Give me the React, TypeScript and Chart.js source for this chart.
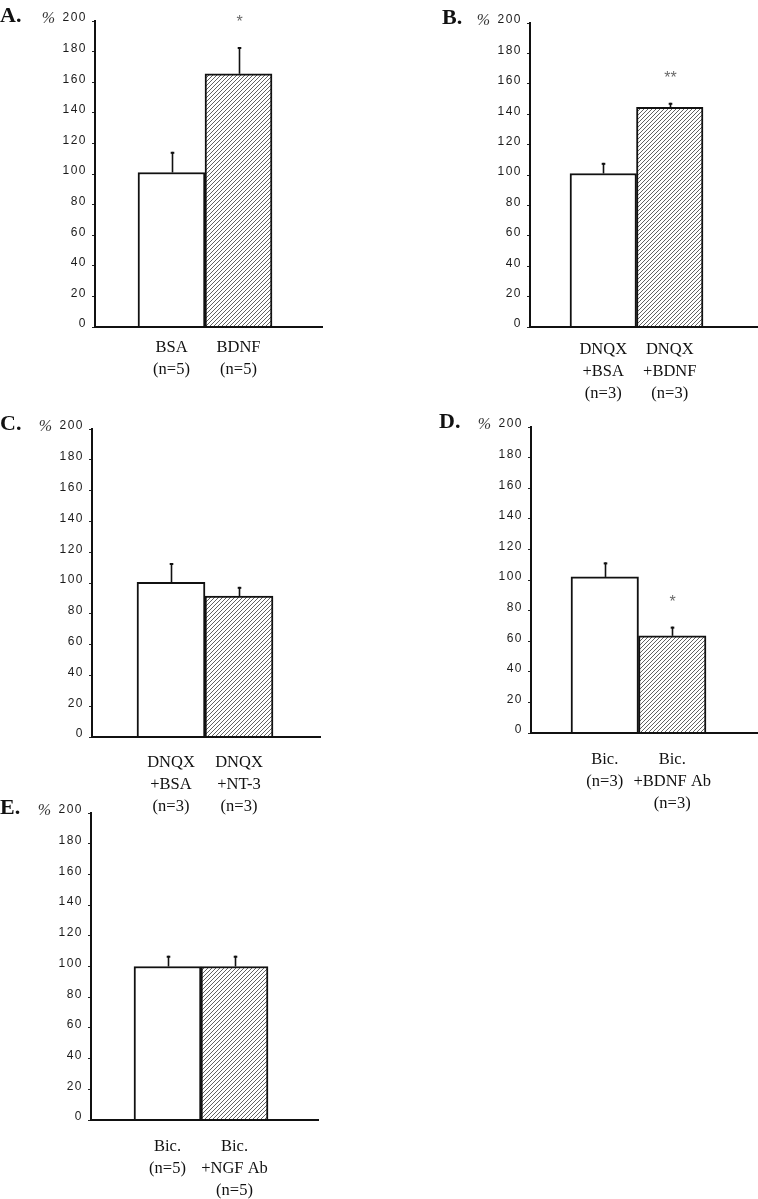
import React, { useEffect, useRef } from "react";
import { Chart, registerables } from "chart.js";

Chart.register(...registerables);

// ---------- data ----------
const yTickValues = [0, 20, 40, 60, 80, 100, 120, 140, 160, 180, 200];

const labelsA = [["BSA", "(n=5)"], ["BDNF", "(n=5)"]];
const valuesA = [101, 165.5];
const errorsA = [13.5, 17.5];
const starsA = ["", "*"];

const labelsB = [["DNQX", "+BSA", "(n=3)"], ["DNQX", "+BDNF", "(n=3)"]];
const valuesB = [101, 144.5];
const errorsB = [7, 3];
const starsB = ["", "**"];

const labelsC = [["DNQX", "+BSA", "(n=3)"], ["DNQX", "+NT-3", "(n=3)"]];
const valuesC = [100.5, 91.5];
const errorsC = [12.5, 6];
const starsC = ["", ""];

const labelsD = [["Bic.", "(n=3)"], ["Bic.", "+BDNF Ab", "(n=3)"]];
const valuesD = [102, 63.5];
const errorsD = [9.5, 6];
const starsD = ["", "*"];

const labelsE = [["Bic.", "(n=5)"], ["Bic.", "+NGF Ab", "(n=5)"]];
const valuesE = [100, 100];
const errorsE = [7, 7];
const starsE = ["", ""];

// ---------- layout (page pixels) ----------
type Layout = {
  col: number; axisX: number; y200: number; y0: number; xEnd: number;
  barL: number; barR: number; letterX: number; labelPad: number;
};

const panels = [
  { letter: "A.", labels: labelsA, values: valuesA, errors: errorsA, stars: starsA,
    layout: { col: 0, axisX: 95, y200: 21, y0: 327, xEnd: 322, barL: 138, barR: 272, letterX: 0, labelPad: 10 } },
  { letter: "B.", labels: labelsB, values: valuesB, errors: errorsB, stars: starsB,
    layout: { col: 1, axisX: 530, y200: 23, y0: 327, xEnd: 758, barL: 570, barR: 703, letterX: 442, labelPad: 12 } },
  { letter: "C.", labels: labelsC, values: valuesC, errors: errorsC, stars: starsC,
    layout: { col: 0, axisX: 92, y200: 429, y0: 737, xEnd: 320, barL: 137, barR: 273, letterX: 0, labelPad: 15 } },
  { letter: "D.", labels: labelsD, values: valuesD, errors: errorsD, stars: starsD,
    layout: { col: 1, axisX: 531, y200: 427, y0: 733, xEnd: 758, barL: 571, barR: 706, letterX: 439, labelPad: 16 } },
  { letter: "E.", labels: labelsE, values: valuesE, errors: errorsE, stars: starsE,
    layout: { col: 0, axisX: 91, y200: 813, y0: 1120, xEnd: 318, barL: 134, barR: 268, letterX: 0, labelPad: 16 } },
];

const COL_W = 379;
const TOP_PAD = 21;
const X_AXIS_H = 90;

function makeHatch(): CanvasPattern | string {
  const c = document.createElement("canvas");
  c.width = 4;
  c.height = 4;
  const g = c.getContext("2d");
  if (!g) return "#999";
  g.fillStyle = "#ffffff";
  g.fillRect(0, 0, 4, 4);
  g.strokeStyle = "#3a3a3a";
  g.lineWidth = 0.8;
  g.beginPath();
  g.moveTo(0, 4); g.lineTo(4, 0);
  g.moveTo(-1, 1); g.lineTo(1, -1);
  g.moveTo(3, 5); g.lineTo(5, 3);
  g.stroke();
  return g.createPattern(c, "repeat") || "#999";
}

type PanelProps = {
  letter: string; labels: string[][]; values: number[]; errors: number[]; stars: string[]; layout: Layout;
};

function Panel({ letter, labels, values, errors, stars, layout }: PanelProps) {
  const ref = useRef<HTMLCanvasElement | null>(null);
  const canvasLeft = layout.col * COL_W;
  const canvasTop = Math.max(0, layout.y200 - TOP_PAD);
  const padTop = layout.y200 - canvasTop;
  const height = layout.y0 - canvasTop + X_AXIS_H;
  const width = COL_W;

  useEffect(() => {
    if (!ref.current) return;
    const unit = (layout.barR - layout.barL) / 2;
    const xMin = 0.5 - (layout.barL - layout.axisX) / unit;
    const xMax = 2.5 + (layout.xEnd - layout.barR) / unit;
    const hatch = makeHatch();

    const decor = {
      id: "decor",
      beforeDraw(chart: any) {
        chart.ctx.letterSpacing = "1.5px";
      },
      beforeDatasetsDraw(chart: any) {
        chart.ctx.letterSpacing = "0px";
      },
      afterDatasetsDraw(chart: any) {
        const ctx = chart.ctx;
        const ys = chart.scales.y;
        const meta = chart.getDatasetMeta(0);
        ctx.save();
        ctx.letterSpacing = "0px";
        values.forEach((v, i) => {
          const bar = meta.data[i];
          const x = Math.round(bar.x) + 0.5;
          const yTop = ys.getPixelForValue(v);
          const yErr = ys.getPixelForValue(v + errors[i]);
          ctx.strokeStyle = "#111";
          ctx.lineWidth = 1.6;
          ctx.beginPath();
          ctx.moveTo(x, yTop);
          ctx.lineTo(x, yErr);
          ctx.stroke();
          ctx.lineWidth = 2;
          ctx.beginPath();
          ctx.moveTo(x - 1.8, yErr + 1);
          ctx.lineTo(x + 1.8, yErr + 1);
          ctx.stroke();
          if (stars[i]) {
            ctx.fillStyle = "#6a6a6a";
            ctx.font = "16px 'Liberation Sans'";
            ctx.textAlign = "center";
            ctx.textBaseline = "middle";
            ctx.fillText(stars[i], x, yErr - 24);
          }
        });
        ctx.restore();
      },
      afterDraw(chart: any) {
        const ctx = chart.ctx;
        const area = chart.chartArea;
        ctx.save();
        ctx.letterSpacing = "0px";
        ctx.fillStyle = "#111";
        ctx.font = "bold 22px 'Liberation Serif'";
        ctx.textAlign = "left";
        ctx.textBaseline = "alphabetic";
        ctx.fillText(letter, layout.letterX - canvasLeft, area.top + 1);
        ctx.fillStyle = "#333";
        ctx.font = "italic 16px 'Liberation Serif'";
        ctx.textAlign = "right";
        ctx.textBaseline = "middle";
        ctx.fillText("%", area.left - 40, area.top - 2);
        ctx.restore();
      },
    };

    const chart = new Chart(ref.current, {
      type: "bar",
      data: {
        datasets: [
          {
            data: values.map((v, i) => ({ x: i + 1, y: v })),
            backgroundColor: ["#ffffff", hatch],
            borderColor: "#111",
            borderWidth: 2,
            barPercentage: 1,
            categoryPercentage: 1,
          } as any,
        ],
      },
      options: {
        animation: false,
        responsive: false,
        maintainAspectRatio: false,
        events: [],
        layout: { padding: { top: padTop, left: 0, bottom: 0, right: canvasLeft + width - layout.xEnd } },
        plugins: { legend: { display: false }, tooltip: { enabled: false }, title: { display: false } },
        scales: {
          x: {
            type: "linear",
            min: xMin,
            max: xMax,
            offset: false,
            grid: { display: false, drawTicks: false },
            border: { display: true, color: "#111", width: 2, z: 1 },
            afterBuildTicks: (s: any) => {
              s.ticks = labels.map((_, i) => ({ value: i + 1 }));
            },
            afterFit: (s: any) => {
              s.height = X_AXIS_H;
            },
            ticks: {
              z: 1,
              autoSkip: false,
              maxRotation: 0,
              minRotation: 0,
              padding: layout.labelPad,
              color: "#111",
              font: { family: "'Liberation Serif'", size: 16.5, lineHeight: 1.33 },
              callback: (v: any) => labels[Math.round(Number(v)) - 1] ?? "",
            },
          },
          y: {
            type: "linear",
            min: 0,
            max: 200,
            afterBuildTicks: (s: any) => {
              s.ticks = yTickValues.map((v) => ({ value: v }));
            },
            afterFit: (s: any) => {
              s.width = layout.axisX - canvasLeft;
            },
            grid: { drawOnChartArea: false, drawTicks: true, tickLength: 3, color: "#222", lineWidth: 1 },
            border: { display: true, color: "#111", width: 2 },
            ticks: {
              padding: 5,
              labelOffset: -3,
              color: "#1a1a1a",
              font: { family: "'Liberation Sans'", size: 12 },
              callback: (v: any) => String(v),
            },
          },
        },
      } as any,
      plugins: [decor],
    });
    return () => chart.destroy();
  }, []);

  return (
    <canvas
      ref={ref}
      width={width}
      height={height}
      style={{ position: "absolute", left: canvasLeft, top: canvasTop, width, height }}
    />
  );
}

export default function App() {
  return (
    <div
      style={{
        position: "absolute",
        left: 0,
        top: 0,
        width: 758,
        height: 1199,
        background: "#ffffff",
        overflow: "hidden",
      }}
    >
      {panels.map((p) => (
        <Panel key={p.letter} {...p} />
      ))}
    </div>
  );
}
